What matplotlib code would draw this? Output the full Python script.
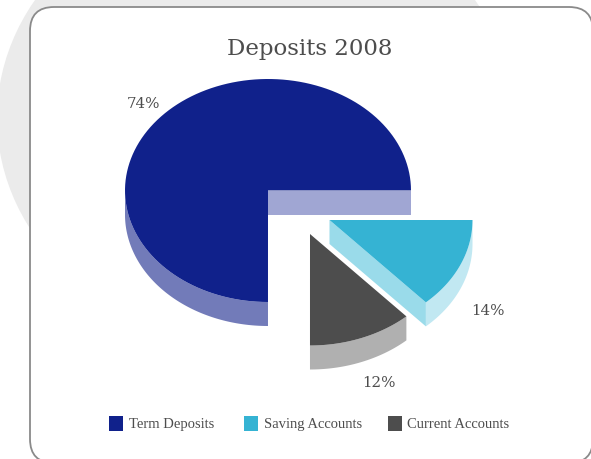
import numpy as np
import matplotlib
matplotlib.use('Agg')
import matplotlib.pyplot as plt
from matplotlib.patches import Ellipse, FancyBboxPatch, Polygon, Rectangle

# Share of deposits per account type
labels = ['Term Deposits', 'Saving Accounts', 'Current Accounts']
values = [74, 14, 12]
top_colors = ['#10218b', '#35b3d3', '#4d4d4d']
rim_colors = ['#727bb9', '#c1e8f2', '#b0b0b0']
cut_colors = ['#a0a6d3', '#9adbea', '#4d4d4d']

W, H = 591, 460
RX, RY, DEPTH = 143, 111.5, 24
TILT = 3.6  # degrees the tilted disc shifts the slice edges near the front

fig = plt.figure(figsize=(W / 100, H / 100), dpi=100)
ax = fig.add_axes([0, 0, 1, 1])
ax.set_xlim(0, W)
ax.set_ylim(H - 1, -1)
ax.axis('off')

# backdrop ellipse and the rounded white panel
ax.add_patch(Ellipse((255, 118), 516, 452, fc='#ebebeb', ec='none', zorder=1))
ax.add_patch(FancyBboxPatch((30, 7), 563, 456, boxstyle='round,pad=0,rounding_size=24',
                            fc='white', ec='#8a8a8a', lw=1.3, zorder=2))


def view_angle(a):
    # angle on the tilted disc, the front of the pie is stretched a little
    return a + TILT * np.sin(np.radians(-a))


def arc(cx, cy, a0, a1, n=120):
    t = np.radians(np.linspace(a0, a1, n))
    return np.column_stack([cx + RX * np.cos(t), cy - RY * np.sin(t)])


def draw_wedge(cx, cy, a0, a1, top, rim, cut, rim_from=None, cut_edge=None):
    # outer wall first, then the cut face, the top goes last
    lo = a0 if rim_from is None else rim_from
    edge = arc(cx, cy, lo, a1)
    ax.add_patch(Polygon(np.vstack([edge, (edge + [0, DEPTH])[::-1]]), fc=rim, ec='none', zorder=3))
    if cut_edge is not None:
        p = arc(cx, cy, cut_edge, cut_edge, 1)[0]
        c = np.array([cx, cy])
        ax.add_patch(Polygon([c, p, p + [0, DEPTH], c + [0, DEPTH]], fc=cut, ec='none', zorder=3))
    pts = np.vstack([[cx, cy], arc(cx, cy, a0, a1)])
    ax.add_patch(Polygon(pts, fc=top, ec='none', zorder=4))


sweeps = [v * 3.6 for v in values]
term_end = view_angle(sweeps[0])
save_end = view_angle(-sweeps[1])
curr_end = view_angle(-sweeps[1] - sweeps[2])

draw_wedge(268, 190.5, 0, term_end, top_colors[0], rim_colors[0], cut_colors[0],
           rim_from=180, cut_edge=0)
draw_wedge(329.5, 220, save_end, 0, top_colors[1], rim_colors[1], cut_colors[1],
           cut_edge=save_end)
draw_wedge(310, 234, curr_end, save_end, top_colors[2], rim_colors[2], cut_colors[2])

text_color = '#4d4d4d'
ax.text(310, 47.5, 'Deposits 2008', family='DejaVu Serif', fontsize=16.5, color=text_color,
        ha='center', va='center', zorder=5)
label_pos = [(143.5, 103.5), (487.5, 310.5), (379, 382.5)]
for v, (x, y) in zip(values, label_pos):
    ax.text(x, y, '%d%%' % v, family='DejaVu Serif', fontsize=10.8, color=text_color,
            ha='center', va='center', zorder=5)

# legend row
swatch_x = [109, 244, 387.5]
text_x = [129, 264.5, 407]
for lab, col, sx, tx in zip(labels, top_colors, swatch_x, text_x):
    ax.add_patch(Rectangle((sx, 416), 14, 15, fc=col, ec='none', zorder=5))
    ax.text(tx, 424, lab, family='Liberation Serif', fontsize=10.5, color=text_color,
            ha='left', va='center', zorder=5)

fig.savefig('out.png', dpi=100)
